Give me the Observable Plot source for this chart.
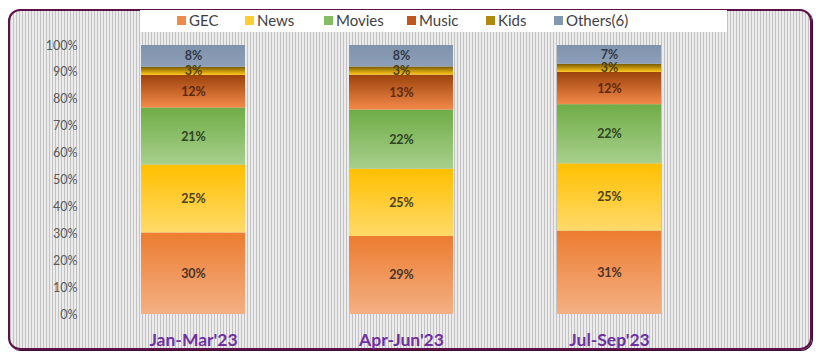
<!DOCTYPE html>
<html><head><meta charset="utf-8">
<script src="https://cdn.jsdelivr.net/npm/d3@7"></script>
<script src="https://cdn.jsdelivr.net/npm/@observablehq/plot@0.6"></script>
<style>
body{margin:0;background:#fff;}
#wrap{position:relative;width:822px;height:361px;overflow:hidden;font-family:Lato,"Open Sans",sans-serif;}
#frame{position:absolute;left:8px;top:9px;width:804px;height:341px;box-sizing:border-box;border:2px solid #5e1049;border-radius:12px;
 background:repeating-linear-gradient(90deg,#c2c2c2 0 1px,#ececec 1px 3px);box-shadow:1px 1px 0 #3d0a30;}
#legendbox{position:absolute;left:140px;top:10px;width:587px;height:22px;background:#fff;}
.li{position:absolute;top:11px;font-size:15px;color:#3f3f3f;line-height:18px;white-space:nowrap;}
.sw{display:inline-block;width:9px;height:9px;margin-right:3px;vertical-align:1px;}
#chart{position:absolute;left:0;top:0;}
</style></head>
<body>
<div id="wrap">
  <div id="frame"></div>
  <div id="legendbox"></div>
  <div id="legend"></div>
  <div id="chart"></div>
</div>
<script>
const quarters = ["Jan-Mar'23", "Apr-Jun'23", "Jul-Sep'23"];
const series = ["GEC", "News", "Movies", "Music", "Kids", "Others(6)"];
const gec    = [30, 29, 31];
const news   = [25, 25, 25];
const movies = [21, 22, 22];
const music  = [12, 13, 12];
const kids   = [3, 3, 3];
const others = [8, 8, 7];
const yTicks = [0, 10, 20, 30, 40, 50, 60, 70, 80, 90, 100];

const seriesValues = [gec, news, movies, music, kids, others];
// gradient stops (top, bottom) per series
const gradTop    = ["#ec7c30", "#ffc000", "#6fac46", "#9c430c", "#7a5a00", "#8093ac"];
const gradBottom = ["#f4b084", "#ffda6a", "#a8d08d", "#f3894a", "#ffc819", "#8ea0b9"];
const legendSwatch = ["#f08a4b", "#ffcc33", "#86bd63", "#c0561c", "#b08a10", "#8497b0"];
const labelColor = ["#4a3326", "#4a3f1f", "#2e4424", "#5a2a10", "#4f3f08", "#2f3a4a"];
const legendX = [177, 245, 324, 407, 486, 554];

const rows = [];
quarters.forEach((q, qi) => {
  series.forEach((s, si) => {
    rows.push({quarter: q, series: s, si, value: seriesValues[si][qi]});
  });
});

// legend
const leg = document.getElementById("legend");
series.forEach((s, i) => {
  const d = document.createElement("div");
  d.className = "li";
  d.style.left = legendX[i] + "px";
  d.innerHTML = `<span class="sw" style="background:${legendSwatch[i]}"></span>${s}`;
  leg.appendChild(d);
});

const stackOpts = {x: "quarter", y: "value", z: "series", offset: "normalize"};

const svg = Plot.plot({
  width: 822,
  height: 361,
  marginTop: 45,
  marginBottom: 47,
  marginLeft: 37,
  marginRight: 57,
  style: {background: "transparent", overflow: "visible"},
  x: {domain: quarters, padding: 0.5},
  y: {domain: [0, 1]},
  color: {type: "identity"},
  marks: [
    Plot.barY(rows, Plot.stackY({...stackOpts, fill: d => `url(#grad${d.si})`})),
    Plot.text(rows, Plot.stackY({...stackOpts, text: d => d.value + "%", fill: d => labelColor[d.si],
      fontSize: 12.5, fontWeight: "bold", fontFamily: "Lato, 'Open Sans', sans-serif"})),
    Plot.axisY(yTicks.map(t => t / 100), {tickSize: 0, tickPadding: 0, dx: 40,
      tickFormat: d => Math.round(d * 100) + "%", fontSize: 12.5, fill: "#595959",
      fontFamily: "Lato, 'Open Sans', sans-serif", label: null}),
    Plot.axisX({tickSize: 0, tickPadding: 19, fontSize: 17.5, fontWeight: "bold", fill: "#7030a0",
      fontFamily: "Lato, 'Open Sans', sans-serif", label: null})
  ]
});

const defs = d3.select(svg).insert("defs", ":first-child");
series.forEach((s, i) => {
  const g = defs.append("linearGradient").attr("id", "grad" + i)
    .attr("x1", 0).attr("y1", 0).attr("x2", 0).attr("y2", 1);
  g.append("stop").attr("offset", "0%").attr("stop-color", gradTop[i]);
  g.append("stop").attr("offset", "100%").attr("stop-color", gradBottom[i]);
});

document.getElementById("chart").appendChild(svg);
</script>
</body></html>
